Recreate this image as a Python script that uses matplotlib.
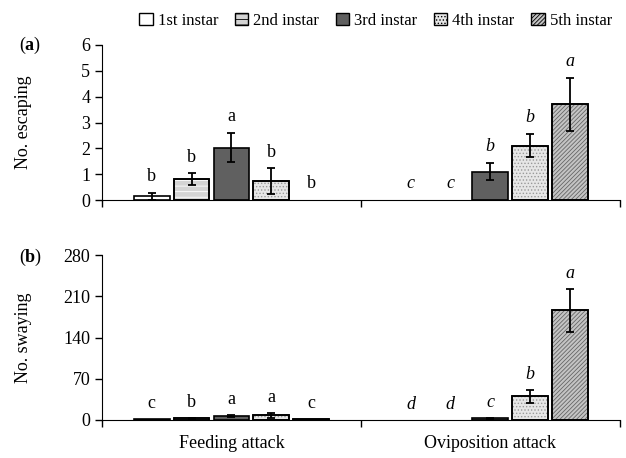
import numpy as np
import matplotlib
matplotlib.use('Agg')
import matplotlib.pyplot as plt
from matplotlib.patches import Patch
from matplotlib.offsetbox import TextArea, HPacker, AnchoredOffsetbox

plt.rcParams['font.family'] = ['Liberation Serif', 'DejaVu Serif']
plt.rcParams['hatch.linewidth'] = 0.6

instars = ['1st instar', '2nd instar', '3rd instar', '4th instar', '5th instar']
groups = ['Feeding attack', 'Oviposition attack']

# panel (a): No. escaping, rows = instar, cols = [feeding, oviposition]
esc_mean = [[0.15, 0.0], [0.8, 0.0], [2.03, 1.1], [0.73, 2.1], [0.0, 3.7]]
esc_err = [[0.14, 0], [0.23, 0], [0.57, 0.33], [0.5, 0.45], [0, 1.03]]
esc_letters = [['b', 'c'], ['b', 'c'], ['a', 'b'], ['b', 'b'], ['b', 'a']]

# panel (b): No. swaying
sway_mean = [[1, 0], [3, 0], [7, 3], [8, 40], [1, 186]]
sway_err = [[0, 0], [1, 0], [2, 1], [4, 11], [0, 37]]
sway_letters = [['c', 'd'], ['b', 'd'], ['a', 'c'], ['a', 'b'], ['c', 'a']]

colors = ['white', '#d4d4d4', '#606060', '#e6e6e6', '#c4c4c4']
hatches = [None, '---', None, '.....', '////////']
hatch_cols = ['black', 'white', 'black', '#999999', '#666666']

fig = plt.figure(figsize=(6.26, 4.58), dpi=100)
axa = fig.add_axes([0.163, 0.563, 0.827, 0.339])
axb = fig.add_axes([0.163, 0.083, 0.827, 0.360])

step = 0.154
width = 0.138
centers = np.array([0.5, 1.5])


def draw(ax, means, errs, letters, ymax, yticks, ylabel, pad):
    for i in range(5):
        x = centers + (i - 2) * step
        m = np.array(means[i], dtype=float)
        e = np.array(errs[i], dtype=float)
        keep = m > 0
        bars = ax.bar(x[keep], m[keep], width, color=colors[i], edgecolor='black', linewidth=1.2, zorder=2)
        if hatches[i]:
            for b in bars:
                b.set_hatch(hatches[i])
                b._hatch_color = matplotlib.colors.to_rgba(hatch_cols[i])
            ax.bar(x[keep], m[keep], width, color='none', edgecolor='black', linewidth=1.2, zorder=3)
        ke = e > 0
        ax.errorbar(x[ke], m[ke], yerr=e[ke], fmt='none', ecolor='black', elinewidth=1.3,
                    capsize=3, capthick=1.3, zorder=4)
        for j in range(2):
            style = 'normal' if j == 0 else 'italic'
            ax.text(x[j], m[j] + e[j] + pad, letters[i][j], ha='center', va='bottom', fontsize=13, style=style)
    ax.set_xlim(0, 2)
    ax.set_ylim(0, ymax)
    ax.set_yticks(yticks)
    ax.set_xticks([0, 1, 2])
    ax.set_xticklabels([])
    ax.spines['top'].set_visible(False)
    ax.spines['right'].set_visible(False)
    ax.tick_params(axis='y', labelsize=13, length=5, width=1)
    ax.tick_params(axis='x', length=5, width=1)
    ax.set_ylabel(ylabel, fontsize=13)


def panel_label(letter, y):
    parts = [TextArea('(', textprops=dict(fontsize=13)),
             TextArea(letter, textprops=dict(fontsize=13, fontweight='bold')),
             TextArea(')', textprops=dict(fontsize=13))]
    box = HPacker(children=parts, pad=0, sep=0)
    anchored = AnchoredOffsetbox(loc='upper left', child=box, pad=0, frameon=False,
                                 bbox_to_anchor=(0.03, y), bbox_transform=fig.transFigure, borderpad=0)
    fig.add_artist(anchored)


draw(axa, esc_mean, esc_err, esc_letters, 6, range(0, 7), 'No. escaping', 0.3)
draw(axb, sway_mean, sway_err, sway_letters, 280, range(0, 281, 70), 'No. swaying', 12)

axa.yaxis.set_label_coords(-0.135, 0.5)
axb.yaxis.set_label_coords(-0.135, 0.5)

for k, g in enumerate(groups):
    axb.text(centers[k], -25, g, ha='center', va='top', fontsize=13)

panel_label('a', 0.92)
panel_label('b', 0.457)

handles = []
for i in range(5):
    p = Patch(facecolor=colors[i], edgecolor='black', hatch=hatches[i], linewidth=1)
    handles.append(p)
fig.legend(handles, instars, loc='upper center', bbox_to_anchor=(0.6, 1.005), ncol=5, frameon=False,
           fontsize=12, handlelength=0.8, handleheight=0.8, handletextpad=0.3, columnspacing=1.0)

fig.savefig('out.png', dpi=100)
